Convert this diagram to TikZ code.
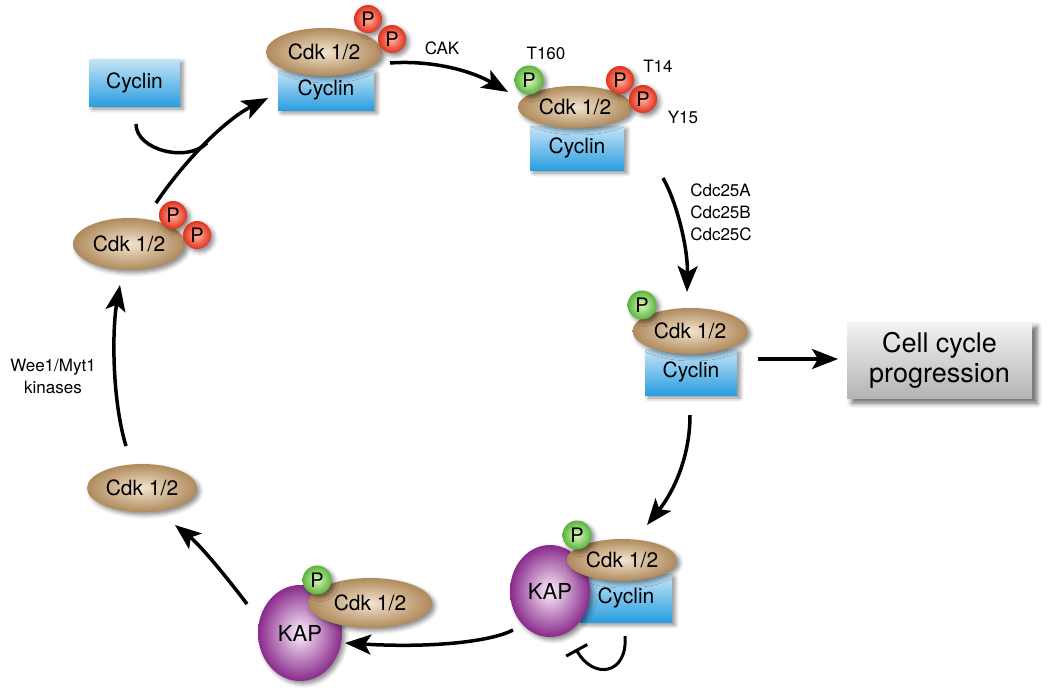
\documentclass[tikz,border=0pt]{standalone}
\usepackage{fontspec}
\setmainfont{TeX Gyre Heros}
\usetikzlibrary{arrows.meta,shapes.geometric,shadows,shadows.blur}
\definecolor{cdkin}{HTML}{F3E4CF}
\definecolor{cdkout}{HTML}{B08A5C}
\definecolor{cyctop}{HTML}{C6E5F7}
\definecolor{cycbot}{HTML}{2A9EDF}
\definecolor{redin}{HTML}{FFB6A2}
\definecolor{redout}{HTML}{E2301C}
\definecolor{grnin}{HTML}{DDF6C0}
\definecolor{grnout}{HTML}{5AB53A}
\definecolor{kapin}{HTML}{FBF0FB}
\definecolor{kapout}{HTML}{8A2A8C}
\definecolor{graytop}{HTML}{F3F3F3}
\definecolor{graybot}{HTML}{B4B4B4}
\tikzset{
  shad/.style={blur shadow={shadow xshift=3pt,shadow yshift=-3pt,shadow blur radius=4pt,shadow opacity=45}},
  cdk/.style={shape=ellipse,inner sep=0pt,shad,inner color=cdkin,outer color=cdkout,font=\fontsize{21}{25}\selectfont},
  cyc/.style={shape=rectangle,inner sep=0pt,shad,top color=cyctop,bottom color=cycbot,font=\fontsize{21}{25}\selectfont},
  kap/.style={shape=ellipse,inner sep=0pt,shad,inner color=kapin,outer color=kapout,font=\fontsize{22}{26}\selectfont},
  pred/.style={shape=circle,inner sep=0pt,minimum size=28pt,shad,inner color=redin,outer color=redout,font=\fontsize{20}{24}\selectfont},
  pgrn/.style={shape=circle,inner sep=0pt,minimum size=29pt,shad,inner color=grnin,outer color=grnout,font=\fontsize{20}{24}\selectfont},
  lab/.style={inner sep=0pt,font=\fontsize{17}{22}\selectfont},
  cellbox/.style={shape=rectangle,inner sep=0pt,minimum width=185pt,minimum height=76pt,align=center,
    blur shadow={shadow xshift=5pt,shadow yshift=-5pt,shadow blur radius=5pt,shadow opacity=60},
    top color=graytop,bottom color=graybot,font=\fontsize{27}{30}\selectfont},
  arr/.style={line width=3.5pt,-{Stealth[length=26pt,width=20pt,inset=6pt]}},
  plain/.style={line width=3.5pt},
  inh/.style={line width=3pt,-{Bar[width=24pt,line width=3pt]}}
}
\begin{document}
\begin{tikzpicture}[x=1pt,y=-1pt]
\useasboundingbox (0,0) rectangle (1050,697);
% free cyclin
\node[cyc,minimum width=91pt,minimum height=47pt] (cyc0) at (134.5,82.5) {Cyclin};
% top complex
\node[cyc,minimum width=96pt,minimum height=40pt] (cyc1) at (326,90) {Cyclin};
\node[cdk,minimum width=116pt,minimum height=48pt] (cdk1) at (324,52) {Cdk 1/2};
\node[pred] (p1a) at (368,19) {P};
\node[pred] (p1b) at (392,39) {P};
% top right complex
\node[cyc,minimum width=94pt,minimum height=44pt] (cyc2) at (577,148) {Cyclin};
\node[cdk,minimum width=114pt,minimum height=42pt] (cdk2) at (575,107) {Cdk 1/2};
\node[pgrn] (p2g) at (529,80) {P};
\node[pred] (p2a) at (620,80) {P};
\node[pred] (p2b) at (643,99) {P};
\node[lab] (t160) at (546,53) {T160};
\node[lab] (t14) at (658,66) {T14};
\node[lab] (y15) at (683,117) {Y15};
% right middle complex
\node[cyc,minimum width=92pt,minimum height=46pt] (cyc3) at (691,372) {Cyclin};
\node[cdk,minimum width=115pt,minimum height=46pt] (cdk3) at (690,331) {Cdk 1/2};
\node[pgrn] (p3) at (642,305) {P};
% bottom right complex
\node[cyc,minimum width=92pt,minimum height=48pt] (cyc4) at (626,598) {Cyclin};
\node[kap,minimum width=80pt,minimum height=92pt] (kap4) at (550,591) {KAP};
\node[cdk,minimum width=110pt,minimum height=42pt] (cdk4) at (622,560) {Cdk 1/2};
\node[pgrn] (p4) at (577,535) {P};
% bottom left complex
\node[kap,minimum width=84pt,minimum height=96pt] (kap5) at (300,633) {KAP};
\node[cdk,minimum width=124pt,minimum height=50pt] (cdk5) at (370,603) {Cdk 1/2};
\node[pgrn] (p5) at (317,580) {P};
% left
\node[cdk,minimum width=112pt,minimum height=52pt] (cdk6) at (129,244) {Cdk 1/2};
\node[pred] (p6a) at (173,215) {P};
\node[pred] (p6b) at (197,235) {P};
\node[cdk,minimum width=110pt,minimum height=48pt] (cdk7) at (142,488) {Cdk 1/2};
% cell cycle progression
\node[cellbox] (ccp) at (939.5,360) {Cell cycle\\progression};
% labels
\node[lab] (cak) at (442,48) {CAK};
\node[lab,align=left] (cdc) at (721,212) {Cdc25A\\Cdc25B\\Cdc25C};
\node[lab,align=center] (wee) at (53,376) {Wee1/Myt1\\kinases};
% connector end points
\coordinate (a0s) at (156,203); \coordinate (a0e) at (268,98);
\coordinate (c0s) at (136,124); \coordinate (c0e) at (207,143);
\coordinate (a1s) at (390,63);  \coordinate (a1e) at (508,92);
\coordinate (a2s) at (663,178); \coordinate (a2e) at (687,292);
\coordinate (a3s) at (758,359); \coordinate (a3e) at (838,359);
\coordinate (a4s) at (690,415); \coordinate (a4e) at (647,525);
\coordinate (a5s) at (513,630); \coordinate (a5e) at (345,643);
\coordinate (a6s) at (247,604); \coordinate (a6e) at (175,525);
\coordinate (a7s) at (126,446); \coordinate (a7e) at (120,285);
\coordinate (i0s) at (625,636); \coordinate (i0e) at (576,649);
% connectors
\draw[arr] (a0s) .. controls (185,160) and (225,120) .. (a0e);
\draw[plain] (c0s) .. controls (136,150) and (187,163) .. (c0e);
\draw[arr] (a1s) .. controls (430,60) and (470,70) .. (a1e);
\draw[arr] (a2s) .. controls (678,205) and (688,250) .. (a2e);
\draw[arr] (a3s) -- (a3e);
\draw[arr] (a4s) .. controls (690,455) and (675,490) .. (a4e);
\draw[arr] (a5s) .. controls (490,642) and (430,648) .. (a5e);
\draw[arr] (a6s) .. controls (225,575) and (200,545) .. (a6e);
\draw[arr] (a7s) .. controls (112,400) and (112,330) .. (a7e);
\draw[inh] (i0s) .. controls (628,675) and (593,680) .. (i0e);
\end{tikzpicture}
\end{document}
